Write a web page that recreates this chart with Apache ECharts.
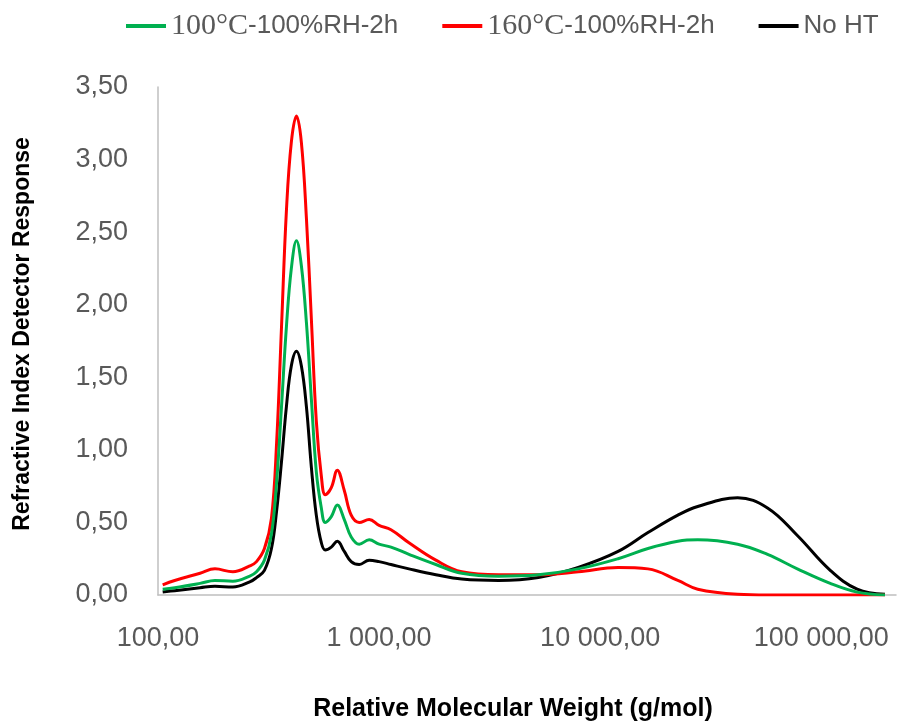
<!DOCTYPE html>
<html>
<head>
<meta charset="utf-8">
<script src="https://cdn.jsdelivr.net/npm/echarts@6/dist/echarts.min.js"></script>
<style>html,body{margin:0;padding:0;background:#fff;}#c{width:899px;height:727px;}</style>
</head>
<body>
<div id="c"></div>
<script>
// Relative molecular weight (g/mol)
const mw = [105, 119, 155, 181, 218, 260, 279, 303, 326, 344, 362, 381, 401, 423, 445, 469, 494, 520, 548, 571, 608, 647, 696, 748, 813, 902, 1000, 1132, 1365, 1806, 2365, 3472, 5257, 7960, 12050, 16450, 22450, 27620, 41840, 57130, 77960, 109800, 145300, 194200];
const green100 = [0.04, 0.05, 0.08, 0.10, 0.095, 0.13, 0.16, 0.24, 0.42, 0.78, 1.30, 1.85, 2.25, 2.44, 2.27, 1.88, 1.35, 0.85, 0.60, 0.50, 0.54, 0.62, 0.52, 0.40, 0.35, 0.38, 0.35, 0.33, 0.28, 0.21, 0.15, 0.13, 0.14, 0.18, 0.25, 0.32, 0.37, 0.38, 0.35, 0.28, 0.18, 0.08, 0.02, 0.0];
const red160 = [0.07, 0.10, 0.15, 0.18, 0.16, 0.20, 0.23, 0.32, 0.53, 1.05, 1.85, 2.65, 3.12, 3.30, 3.12, 2.60, 1.90, 1.20, 0.82, 0.69, 0.74, 0.86, 0.72, 0.55, 0.50, 0.52, 0.48, 0.45, 0.36, 0.24, 0.16, 0.14, 0.14, 0.16, 0.19, 0.18, 0.10, 0.04, 0.005, 0.0, 0.0, 0.0, 0.0, 0.0];
const noHT = [0.02, 0.03, 0.05, 0.06, 0.055, 0.09, 0.12, 0.17, 0.32, 0.58, 0.92, 1.30, 1.58, 1.68, 1.58, 1.30, 0.88, 0.55, 0.36, 0.31, 0.33, 0.37, 0.30, 0.23, 0.21, 0.24, 0.23, 0.21, 0.18, 0.14, 0.11, 0.10, 0.12, 0.19, 0.30, 0.43, 0.55, 0.61, 0.67, 0.60, 0.41, 0.17, 0.04, 0.005];
const seriesNames = ['100°C-100%RH-2h', '160°C-100%RH-2h', 'No HT'];
const seriesColors = ['#00b050', '#ff0000', '#000000'];
const yTicks = [0, 0.5, 1, 1.5, 2, 2.5, 3, 3.5];

const pairs = arr => arr.map((v, i) => [mw[i], v]);
const seriesData = [green100, red160, noHT];

const chart = echarts.init(document.getElementById('c'), null, {renderer: 'canvas'});
const fmtX = v => {
  const l = Math.log10(v);
  if (Math.abs(l - Math.round(l)) > 1e-6) return '';
  return Math.round(v).toString().replace(/\B(?=(\d{3})+(?!\d))/g, ' ') + ',00';
};
chart.setOption({
  animation: false,
  backgroundColor: '#ffffff',
  legend: {
    top: 6,
    left: 121,
    itemWidth: 40,
    itemHeight: 4,
    itemGap: 44,
    icon: 'rect',
    data: seriesNames,
    formatter: name => {
      const m = name.match(/^(\d+°C)(.*)$/);
      return m ? '{s|' + m[1] + '}{a|' + m[2] + '}' : '{a|' + name + '}';
    },
    textStyle: {
      color: '#595959',
      rich: {
        s: {fontFamily: "'Liberation Serif', serif", fontSize: 30, color: '#595959'},
        a: {fontFamily: "'Liberation Sans Narrow', 'Liberation Sans', sans-serif", fontSize: 26, color: '#595959'}
      }
    }
  },
  grid: {left: 158, right: 0, top: 87, bottom: 129, containLabel: false},
  xAxis: {
    type: 'log',
    logBase: 10,
    min: 100,
    max: 217800,
    name: 'Relative Molecular Weight (g/mol)',
    nameLocation: 'middle',
    nameGap: 102,
    nameTextStyle: {fontFamily: "'Liberation Sans', sans-serif", fontWeight: 'bold', fontSize: 25, color: '#000', padding: [0, 28, 0, 0]},
    axisLine: {show: true, lineStyle: {color: '#bfbfbf', width: 1.5}},
    axisTick: {show: false},
    splitLine: {show: false},
    minorTick: {show: false},
    axisLabel: {formatter: fmtX, margin: 30, color: '#595959', fontSize: 27, fontFamily: "'Liberation Sans', sans-serif"}
  },
  yAxis: {
    type: 'value',
    min: yTicks[0],
    max: yTicks[yTicks.length - 1],
    interval: 0.5,
    name: 'Refractive Index Detector Response',
    nameLocation: 'middle',
    nameGap: 124,
    nameRotate: 90,
    nameTextStyle: {fontFamily: "'Liberation Sans', sans-serif", fontWeight: 'bold', fontSize: 23, color: '#000', padding: [0, 0, 0, 14]},
    axisLine: {show: true, lineStyle: {color: '#bfbfbf', width: 1.5}},
    axisTick: {show: false},
    splitLine: {show: false},
    axisLabel: {formatter: v => v.toFixed(2).replace('.', ','), margin: 30, color: '#595959', fontSize: 27, fontFamily: "'Liberation Sans', sans-serif"}
  },
  series: seriesNames.map((n, i) => ({
    name: n,
    type: 'line',
    data: pairs(seriesData[i]),
    smooth: 0.4,
    symbol: 'none',
    color: seriesColors[i],
    lineStyle: {width: 3, color: seriesColors[i]},
    z: 3 - i
  }))
});
</script>
</body>
</html>
